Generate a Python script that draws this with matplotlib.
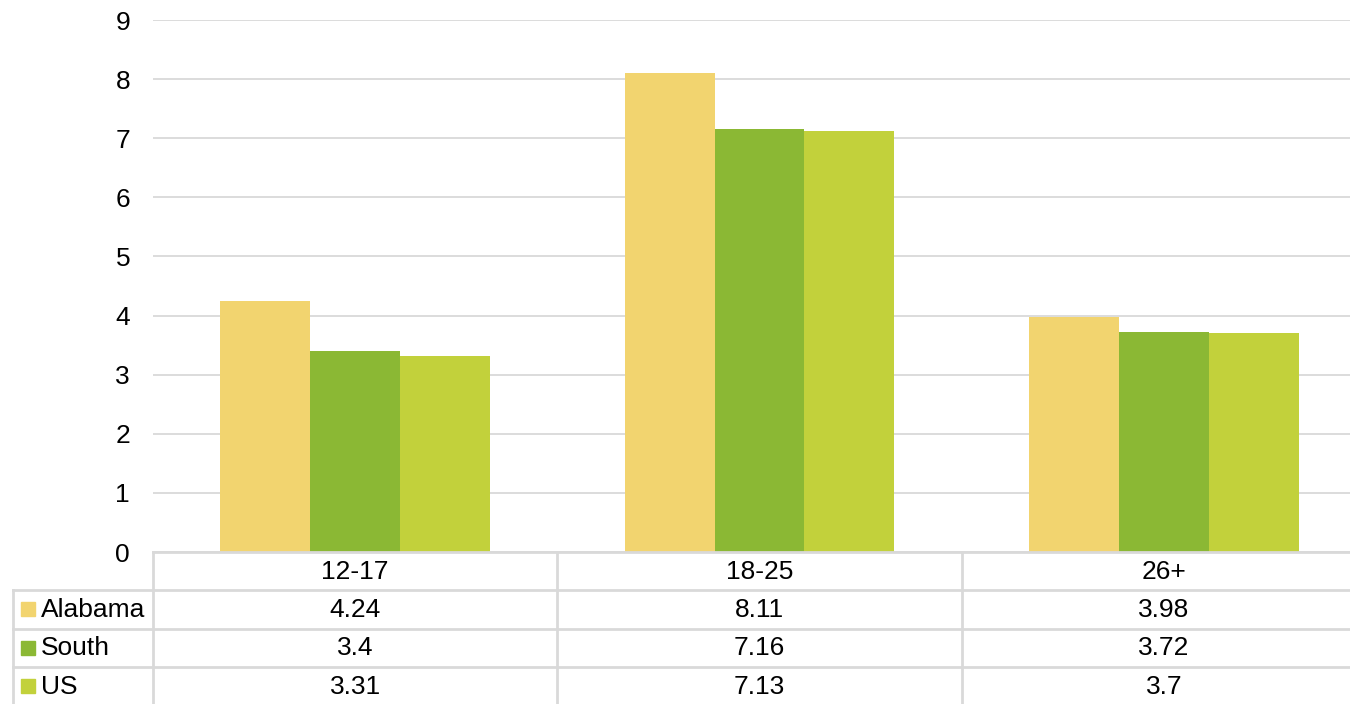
import matplotlib.pyplot as plt
import numpy as np

plt.rcParams['font.family'] = ['Liberation Sans', 'DejaVu Sans']

categories = ['12-17', '18-25', '26+']
series = ['Alabama', 'South', 'US']
alabama = [4.24, 8.11, 3.98]
south = [3.4, 7.16, 3.72]
us = [3.31, 7.13, 3.7]
labels = {'Alabama': ['4.24', '8.11', '3.98'],
          'South': ['3.4', '7.16', '3.72'],
          'US': ['3.31', '7.13', '3.7']}
colors = ['#F2D46F', '#8BB834', '#C2D13B']
grid_c = '#D9D9D9'
fs = 19

W, H = 1350, 704
fig = plt.figure(figsize=(W / 100, H / 100), dpi=100)

# plot area in pixels: left 153, right 1366 (past the edge), top 20, bottom 552
left, right, top, bottom = 153, 1366, 20, 552
ax = fig.add_axes([left / W, (H - bottom) / H, (right - left) / W, (bottom - top) / H])

x = np.arange(len(categories))
w = 0.2225
for k, (vals, c) in enumerate(zip([alabama, south, us], colors)):
    ax.bar(x + (k - 1) * w, vals, width=w, color=c, zorder=3)

ax.set_xlim(-0.5, 2.5)
ax.set_ylim(0, 9)
ax.set_yticks(range(0, 10))
ax.yaxis.grid(True, color=grid_c, linewidth=1.3, zorder=0)
ax.set_xticks([])
for s in ax.spines.values():
    s.set_visible(False)
ax.tick_params(axis='y', length=0, pad=16.5, labelsize=fs)

# data table below the plot
tab = fig.add_axes([left / W, (H - 705) / H, (right - left) / W, 153 / H])
tab.set_xlim(-0.5, 2.5)
tab.set_ylim(4, 0)
tab.axis('off')
px = 3.0 / (right - left)  # data units per pixel
lab_left = -0.5 - 140 * px

lk = dict(color=grid_c, linewidth=2, clip_on=False)
tab.plot([-0.5, 2.5], [0, 0], **lk)
for r in (1, 2, 3):
    tab.plot([lab_left, 2.5], [r, r], **lk)
for xv in (-0.5, 0.5, 1.5):
    tab.plot([xv, xv], [0, 4], **lk)
tab.plot([lab_left, lab_left], [1, 4], **lk)

for i, cat in enumerate(categories):
    tab.text(i, 0.52, cat, ha='center', va='center', fontsize=fs)
for r, (name, c) in enumerate(zip(series, colors), start=1):
    tab.add_patch(plt.Rectangle((-0.5 - 132 * px, r + 0.5 - 0.18), 14 * px, 0.36,
                                color=c, clip_on=False))
    tab.text(-0.5 - 112 * px, r + 0.52, name, ha='left', va='center', fontsize=fs)
    for i, t in enumerate(labels[name]):
        tab.text(i, r + 0.52, t, ha='center', va='center', fontsize=fs)

fig.savefig('out.png', dpi=100)
